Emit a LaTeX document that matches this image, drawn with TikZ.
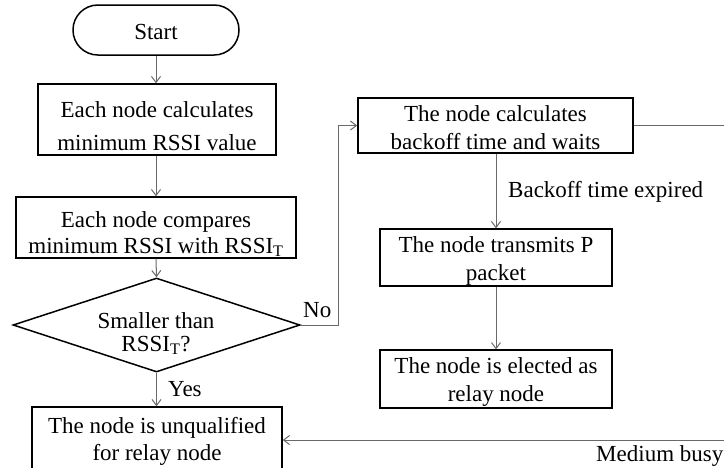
\documentclass[tikz,border=0pt]{standalone}
\usepackage{fontspec}
\setmainfont{Liberation Serif}
\usetikzlibrary{shapes.geometric,arrows.meta}
\definecolor{connc}{RGB}{105,105,105}
\newcommand\mytop[1]{\rule{0pt}{#1pt}}
\newcommand\mybot[1]{\rule[-#1pt]{0pt}{#1pt}}
\begin{document}
\begin{tikzpicture}[x=1pt,y=-1pt,
  box/.style={draw=black,line width=1.5pt,rectangle,inner sep=0pt,align=center,font=\fontsize{23}{28}\selectfont},
  conn/.style={draw=connc,line width=1pt},
  arr/.style={conn,-{Straight Barb[length=6pt,width=9pt]}},
  lbl/.style={inner sep=0pt,font=\fontsize{23}{28}\selectfont,anchor=base west}]
\useasboundingbox (0,0) rectangle (724,467);
\clip (0,0) rectangle (724,467);

% left column
\node[box,rounded corners=24.9pt,minimum width=166pt,minimum height=50pt] (start) at (156,30) {\mytop{20}Start};
\node[box,minimum width=238pt,minimum height=71pt,font=\fontsize{23}{33.2}\selectfont] (b1) at (157,119.5)
  {\mytop{33.3}Each node calculates\\minimum RSSI value\mybot{4.5}};
\node[box,minimum width=280pt,minimum height=61pt,font=\fontsize{23}{26}\selectfont] (b2) at (156,227.5)
  {\mytop{30}Each node compares\\minimum RSSI with RSSI\textsubscript{T}\mybot{5}};
\node[draw=black,line width=1.5pt,diamond,aspect=3.05,minimum width=287pt,minimum height=94pt,inner sep=0pt] (dec) at (156.5,325) {};
\node[inner sep=0pt,align=center,font=\fontsize{23}{23}\selectfont] (dect) at (156,334)
  {\mytop{17}Smaller than\\RSSI\textsubscript{T}?\mybot{6}};
\node[box,minimum width=250pt,minimum height=62pt,font=\fontsize{23}{27}\selectfont] (b6) at (157,438)
  {\mytop{23}The node is unqualified\\for relay node\mybot{6}};

% right column
\node[box,minimum width=275pt,minimum height=55pt] (b3) at (495.5,125.5)
  {\mytop{23.5}The node calculates\\backoff time and waits\mybot{3.5}};
\node[box,minimum width=232pt,minimum height=57pt] (b4) at (496,257.5)
  {\mytop{23.1}The node transmits P\\packet\mybot{5.5}};
\node[box,minimum width=232pt,minimum height=57.7pt,font=\fontsize{23}{28.4}\selectfont] (b5) at (496,379)
  {\mytop{23.1}The node is elected as\\relay node\mybot{6}};

% labels
\node[lbl] (yes) at (168,396) {Yes};
\node[lbl] (no) at (303,317) {No};
\node[lbl] (exp) at (508,197) {Backoff time expired};
\node[lbl] (busy) at (596,461) {Medium busy};

% connectors
\draw[arr] (start.south) -- (start.south |- b1.north);
\draw[arr] (b2.north |- b1.south) -- (b2.north);
\draw[arr] (b2.south) -- (dec.north);
\draw[arr] (dec.south) -- (dec.south |- b6.north);
\coordinate (nc) at (338,325);
\draw[arr] (dec.east) -- (nc) |- (b3.west);
\draw[arr] (b4.north |- b3.south) -- (b4.north);
\draw[arr] (b4) -- (b5);
\coordinate (r1) at (730,125.5);
\coordinate (r2) at (730,440);
\draw[arr] (b3.east) -- (r1) -- (r2) -- (r2 -| b6.east);
\end{tikzpicture}
\end{document}
